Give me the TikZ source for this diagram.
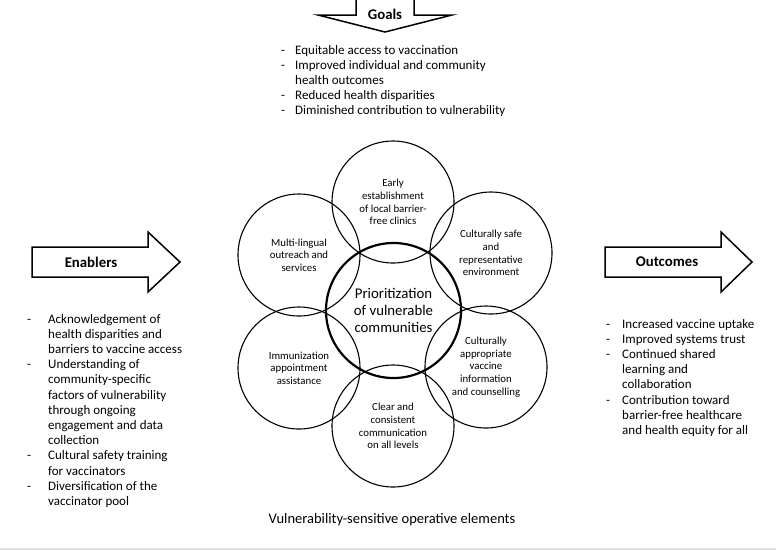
\documentclass[tikz,border=0pt]{standalone}
\usepackage{fontspec}
\setmainfont{Carlito}
\tikzset{
  bigarrow/.style={draw=black, line width=1.5pt, line join=miter, fill=white},
  arrowlabel/.style={inner sep=0pt, font=\fontsize{14.8}{17}\selectfont\bfseries},
  element/.style={circle, draw=black, line width=1.1pt, minimum size=122pt, inner sep=0pt, align=center, font=\fontsize{10.8}{12.7}\selectfont},
  core/.style={circle, draw=black, line width=2.2pt, minimum size=135pt, inner sep=0pt, align=center, font=\fontsize{14.8}{17}\selectfont},
  listtext/.style={anchor=base west, inner sep=0pt, font=\fontsize{13}{15.2}\selectfont},
  captiontext/.style={inner sep=0pt, font=\fontsize{14.5}{16}\selectfont},
}
\newcommand{\dashcol}[1]{\makebox[#1][l]{-}}
\begin{document}
\begin{tikzpicture}[x=1pt, y=-1pt]
\useasboundingbox (0,0) rectangle (776,550);

% Goals arrow (pointing down)
\draw[bigarrow] (356,-3) -- (356,15) -- (318,15) -- (385,32) -- (452,15) -- (414,15) -- (414,-3);
\node[arrowlabel] (goals) at (385,14) {Goals};

% Goals list
\node[listtext] (goalslist) at (281,54) {\begin{tabular}[t]{@{}l@{}l@{}}
\dashcol{14pt} & Equitable access to vaccination\\
\dashcol{14pt} & Improved individual and community\\
 & health outcomes\\
\dashcol{14pt} & Reduced health disparities\\
\dashcol{14pt} & Diminished contribution to vulnerability
\end{tabular}};

% Enablers arrow
\draw[bigarrow] (32,247) -- (148,247) -- (148,232) -- (180,262) -- (148,292) -- (148,277) -- (32,277) -- cycle;
\node[arrowlabel] (enablers) at (91,262) {Enablers};

% Outcomes arrow
\draw[bigarrow] (605,247) -- (721,247) -- (721,232) -- (752,262) -- (721,292) -- (721,277) -- (605,277) -- cycle;
\node[arrowlabel] (outcomes) at (667,262) {Outcomes};

% Enablers list
\node[listtext] (enablerslist) at (27,323) {\begin{tabular}[t]{@{}l@{}l@{}}
\dashcol{21pt} & Acknowledgement of\\
 & health disparities and\\
 & barriers to vaccine access\\
\dashcol{21pt} & Understanding of\\
 & community-specific\\
 & factors of vulnerability\\
 & through ongoing\\
 & engagement and data\\
 & collection\\
\dashcol{21pt} & Cultural safety training\\
 & for vaccinators\\
\dashcol{21pt} & Diversification of the\\
 & vaccinator pool
\end{tabular}};

% Outcomes list
\node[listtext] (outcomeslist) at (606,328) {\begin{tabular}[t]{@{}l@{}l@{}}
\dashcol{16pt} & Increased vaccine uptake\\
\dashcol{16pt} & Improved systems trust\\
\dashcol{16pt} & Continued shared\\
 & learning and\\
 & collaboration\\
\dashcol{16pt} & Contribution toward\\
 & barrier-free healthcare\\
 & and health equity for all
\end{tabular}};

% Operative elements
\node[element] (clinics) at (393,202) {Early\\establishment\\of local barrier-\\free clinics};
\node[element] (multilingual) at (299,255) {Multi-lingual\\outreach and\\services};
\node[element] (safe) at (491,253) {Culturally safe\\and\\representative\\environment};
\node[element] (appointment) at (299,368) {Immunization\\appointment\\assistance};
\node[element] (counselling) at (486,367) {Culturally\\appropriate\\vaccine\\information\\and counselling};
\node[element] (communication) at (393,426) {Clear and\\consistent\\communication\\on all levels};
\node[core] (priority) at (393.5,310.5) {Prioritization\\of vulnerable\\communities};

% Caption
\node[captiontext] (caption) at (392,520) {Vulnerability-sensitive operative elements};

% Bottom rule
\draw[color=black!12, line width=1.5pt] (0,549) -- (776,549);
\end{tikzpicture}
\end{document}
